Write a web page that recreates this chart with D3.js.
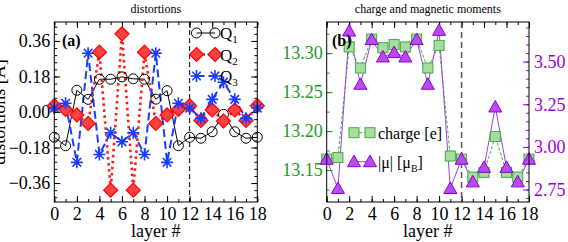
<!DOCTYPE html>
<html>
<head>
<meta charset="utf-8">
<script src="https://cdn.jsdelivr.net/npm/d3@7"></script>
<style>
  body { margin: 0; background: #fff; }
  text { font-family: "Liberation Serif", "Times New Roman", serif; }
</style>
</head>
<body>
<div id="chart"></div>
<script>
var width = 568,
    height = 242;

// layer index
var layers = [0, 1, 2, 3, 4, 5, 6, 7, 8, 9, 10, 11, 12, 13, 14, 15, 16, 17, 18];

// panel (a): distortions [A]
var q1 = [-0.128, -0.171, 0.110, 0.064, 0.166, 0.166, 0.178, 0.168, 0.166, 0.065, 0.108, -0.171, -0.128, -0.133, -0.100, -0.012, -0.100, -0.133, -0.128];
var q2 = [0.032, 0.013, -0.015, -0.058, 0.303, -0.396, 0.396, -0.396, 0.303, -0.058, -0.015, 0.013, 0.032, -0.043, 0.010, -0.045, 0.010, -0.043, 0.032];
var q3 = [0.020, 0.044, -0.255, 0.298, -0.215, -0.105, -0.151, -0.105, -0.215, 0.298, -0.255, 0.044, 0.020, -0.032, 0.064, 0.151, 0.064, -0.032, 0.020];

// panel (b): charge and moments
var charge = [13.164, 13.166, 13.308, 13.281, 13.318, 13.307, 13.311, 13.308, 13.318, 13.281, 13.310, 13.168, 13.164, 13.141, 13.147, 13.193, 13.147, 13.141, 13.164];
var mu = [2.928, 2.756, 3.679, 3.367, 3.629, 3.527, 3.553, 3.527, 3.629, 3.367, 3.683, 2.756, 2.928, 2.795, 2.880, 3.234, 2.880, 2.795, 2.928];

// tick labels
var xTicks = [0, 2, 4, 6, 8, 10, 12, 14, 16, 18];
var distTicks = [-0.36, -0.18, 0, 0.18, 0.36];
var chargeTicks = [13.15, 13.20, 13.25, 13.30];
var muTicks = [2.75, 3.00, 3.25, 3.50];
var boundary = 12;

var green = "#1c9a1c",
    purple = "#a000d8";

var svg = d3.select("#chart").append("svg")
    .attr("width", width)
    .attr("height", height);

var A = {left: 54.3, right: 257.3, top: 22, bottom: 202},
    B = {left: 326.7, right: 529, top: 22, bottom: 202};

var xa = d3.scaleLinear().domain([0, 18]).range([A.left, A.right]);
var ya = d3.scaleLinear().domain([-0.456, 0.456]).range([A.bottom, A.top]);
var xb = d3.scaleLinear().domain([0, 18]).range([B.left, B.right]);
var yc = d3.scaleLinear().domain([13.109, 13.340]).range([B.bottom, B.top]);
var ym = d3.scaleLinear().domain([2.677, 3.732]).range([B.bottom, B.top]);

function minorVals(scale, step) {
  var d = scale.domain(), out = [];
  var start = Math.ceil(d[0] / step - 1e-6);
  for (var i = start; i * step <= d[1] + 1e-9; i++) out.push(+(i * step).toFixed(4));
  return out;
}

function drawAxis(axis, tx, ty, color, fontColor) {
  var g = svg.append("g")
      .attr("transform", "translate(" + tx + "," + ty + ")")
      .call(axis);
  g.select(".domain").remove();
  g.selectAll("line").attr("stroke", color);
  g.selectAll("text")
      .attr("font-family", '"Liberation Serif", serif')
      .attr("font-size", 18)
      .attr("fill", fontColor || color);
  return g;
}

function xAxes(x, P) {
  drawAxis(d3.axisBottom(x).tickValues(xTicks).tickSize(-6).tickPadding(5).tickFormat(d3.format("d")), 0, P.bottom, "#000");
  drawAxis(d3.axisBottom(x).tickValues(layers).tickSize(-3).tickFormat(""), 0, P.bottom, "#000");
  drawAxis(d3.axisTop(x).tickValues(xTicks).tickSize(-6).tickFormat(""), 0, P.top, "#000");
  drawAxis(d3.axisTop(x).tickValues(layers).tickSize(-3).tickFormat(""), 0, P.top, "#000");
  svg.append("text")
      .attr("x", (P.left + P.right) / 2)
      .attr("y", 237)
      .attr("text-anchor", "middle")
      .attr("font-size", 18)
      .text("layer #");
}

/* ---------- panel (a) ---------- */
xAxes(xa, A);
drawAxis(d3.axisLeft(ya).tickValues(distTicks).tickSize(-6).tickPadding(4).tickFormat(d3.format(".2f")), A.left, 0, "#000");
drawAxis(d3.axisLeft(ya).tickValues(minorVals(ya, 0.036)).tickSize(-3).tickFormat(""), A.left, 0, "#000");
drawAxis(d3.axisRight(ya).tickValues(distTicks).tickSize(-6).tickFormat(""), A.right, 0, "#000");
drawAxis(d3.axisRight(ya).tickValues(minorVals(ya, 0.036)).tickSize(-3).tickFormat(""), A.right, 0, "#000");

svg.append("line")
    .attr("x1", xa(boundary)).attr("x2", xa(boundary))
    .attr("y1", A.top).attr("y2", A.bottom)
    .attr("stroke", "#000").attr("stroke-width", 1)
    .attr("stroke-dasharray", "5,3");

var lineA = function(vals) {
  return d3.line().x(function(d, i) { return xa(layers[i]); }).y(function(d) { return ya(d); })(vals);
};

svg.append("path").attr("d", lineA(q1))
    .attr("fill", "none").attr("stroke", "#000").attr("stroke-width", 1);
svg.append("path").attr("d", lineA(q2))
    .attr("fill", "none").attr("stroke", "#ff1a1a").attr("stroke-width", 2.6)
    .attr("stroke-dasharray", "2.5,3.5");
svg.append("path").attr("d", lineA(q3))
    .attr("fill", "none").attr("stroke", "#1a3cff").attr("stroke-width", 2)
    .attr("stroke-dasharray", "8,4");

function circle(g, x, y) {
  g.append("circle").attr("cx", x).attr("cy", y).attr("r", 5)
      .attr("fill", "none").attr("stroke", "#000").attr("stroke-width", 1);
}
function diamond(g, x, y) {
  g.append("path").attr("d", "M" + x + "," + (y - 7) + "L" + (x + 7) + "," + y + "L" + x + "," + (y + 7) + "L" + (x - 7) + "," + y + "Z")
      .attr("fill", "#ff4040").attr("stroke", "#ff0000").attr("stroke-width", 1.2);
}
function star(g, x, y) {
  var r = 6, s = 4.3;
  g.append("path")
      .attr("d", "M" + (x - r) + "," + y + "H" + (x + r) + "M" + x + "," + (y - r) + "V" + (y + r) +
                 "M" + (x - s) + "," + (y - s) + "L" + (x + s) + "," + (y + s) +
                 "M" + (x - s) + "," + (y + s) + "L" + (x + s) + "," + (y - s))
      .attr("stroke", "#1a3cff").attr("stroke-width", 1.6).attr("fill", "none");
}
function square(g, x, y) {
  g.append("rect").attr("x", x - 5).attr("y", y - 5).attr("width", 10).attr("height", 10)
      .attr("fill", "#a8dca0").attr("stroke", "#3cae3c").attr("stroke-width", 1);
}
function triangle(g, x, y) {
  g.append("path").attr("d", "M" + x + "," + (y - 6.5) + "L" + (x + 6.5) + "," + (y + 5) + "L" + (x - 6.5) + "," + (y + 5) + "Z")
      .attr("fill", "#b84cf0").attr("stroke", "#8a00d0").attr("stroke-width", 1);
}

var gm = svg.append("g");
q1.forEach(function(d, i) { circle(gm, xa(layers[i]), ya(d)); });
q2.forEach(function(d, i) { diamond(gm, xa(layers[i]), ya(d)); });
q3.forEach(function(d, i) { star(gm, xa(layers[i]), ya(d)); });

// legend (a)
var legA = [
  {name: "Q", sub: "1", y: 33, mark: circle, stroke: "#000", w: 1, dash: null},
  {name: "Q", sub: "2", y: 54.5, mark: diamond, stroke: "#ff1a1a", w: 2.6, dash: "2.5,3.5"},
  {name: "Q", sub: "3", y: 76, mark: star, stroke: "#1a3cff", w: 2, dash: "8,4"}
];
legA.forEach(function(l) {
  svg.append("line").attr("x1", 196.5).attr("x2", 215).attr("y1", l.y).attr("y2", l.y)
      .attr("stroke", l.stroke).attr("stroke-width", l.w).attr("stroke-dasharray", l.dash);
  l.mark(svg, 196.5, l.y);
  l.mark(svg, 215, l.y);
  var t = svg.append("text").attr("x", 220).attr("y", l.y + 6).attr("font-size", 17);
  t.append("tspan").text(l.name);
  t.append("tspan").attr("font-size", 11).attr("dy", 4).text(l.sub);
});

svg.append("text").attr("x", 62).attr("y", 46)
    .attr("font-family", '"Liberation Sans", Arial, sans-serif')
    .attr("font-weight", "bold").attr("font-size", 16).text("(a)");

svg.append("text")
    .attr("transform", "translate(5," + ((A.top + A.bottom) / 2) + ") rotate(-90)")
    .attr("text-anchor", "middle").attr("font-size", 18)
    .text("distortions [\u00c5]");

svg.append("text").attr("x", (A.left + A.right) / 2).attr("y", 13)
    .attr("text-anchor", "middle").attr("font-size", 12).text("distortions");

svg.append("rect").attr("x", A.left).attr("y", A.top)
    .attr("width", A.right - A.left).attr("height", A.bottom - A.top)
    .attr("fill", "none").attr("stroke", "#000").attr("stroke-width", 1);

/* ---------- panel (b) ---------- */
xAxes(xb, B);
drawAxis(d3.axisLeft(yc).tickValues(chargeTicks).tickSize(-6).tickPadding(4).tickFormat(d3.format(".2f")), B.left, 0, green);
drawAxis(d3.axisLeft(yc).tickValues(minorVals(yc, 0.025)).tickSize(-3).tickFormat(""), B.left, 0, green);
drawAxis(d3.axisRight(ym).tickValues(muTicks).tickSize(-6).tickPadding(5).tickFormat(d3.format(".2f")), B.right, 0, purple);
drawAxis(d3.axisRight(ym).tickValues(minorVals(ym, 0.05)).tickSize(-3).tickFormat(""), B.right, 0, purple);

svg.append("line")
    .attr("x1", xb(boundary)).attr("x2", xb(boundary))
    .attr("y1", B.top).attr("y2", B.bottom)
    .attr("stroke", "#555").attr("stroke-width", 1.5)
    .attr("stroke-dasharray", "6,4");

svg.append("path")
    .attr("d", d3.line().x(function(d, i) { return xb(layers[i]); }).y(function(d) { return yc(d); })(charge))
    .attr("fill", "none").attr("stroke", "#3cae3c").attr("stroke-width", 1)
    .attr("stroke-dasharray", "3,2");
svg.append("path")
    .attr("d", d3.line().x(function(d, i) { return xb(layers[i]); }).y(function(d) { return ym(d); })(mu))
    .attr("fill", "none").attr("stroke", "#a040e8").attr("stroke-width", 1);

var gb = svg.append("g");
charge.forEach(function(d, i) { square(gb, xb(layers[i]), yc(d)); });
mu.forEach(function(d, i) { triangle(gb, xb(layers[i]), ym(d)); });

// legend (b)
svg.append("line").attr("x1", 354).attr("x2", 370).attr("y1", 132.7).attr("y2", 132.7)
    .attr("stroke", "#3cae3c").attr("stroke-dasharray", "3,2");
square(svg, 354, 132.7); square(svg, 370, 132.7);
svg.append("text").attr("x", 378).attr("y", 138.5).attr("font-size", 16).text("charge [e]");

svg.append("line").attr("x1", 354).attr("x2", 370).attr("y1", 161.7).attr("y2", 161.7)
    .attr("stroke", "#a040e8");
triangle(svg, 354, 161.7); triangle(svg, 370, 161.7);
var tm = svg.append("text").attr("x", 378).attr("y", 167.5).attr("font-size", 16);
tm.append("tspan").text("|\u03bc| [\u03bc");
tm.append("tspan").attr("font-size", 10).attr("dy", 4).text("B");
tm.append("tspan").attr("dy", -4).text("]");

svg.append("text").attr("x", 332).attr("y", 46)
    .attr("font-family", '"Liberation Sans", Arial, sans-serif')
    .attr("font-weight", "bold").attr("font-size", 16).text("(b)");

svg.append("text").attr("x", (B.left + B.right) / 2).attr("y", 13)
    .attr("text-anchor", "middle").attr("font-size", 12).text("charge and magnetic moments");

svg.append("rect").attr("x", B.left).attr("y", B.top)
    .attr("width", B.right - B.left).attr("height", B.bottom - B.top)
    .attr("fill", "none").attr("stroke", "#000").attr("stroke-width", 1);
</script>
</body>
</html>
